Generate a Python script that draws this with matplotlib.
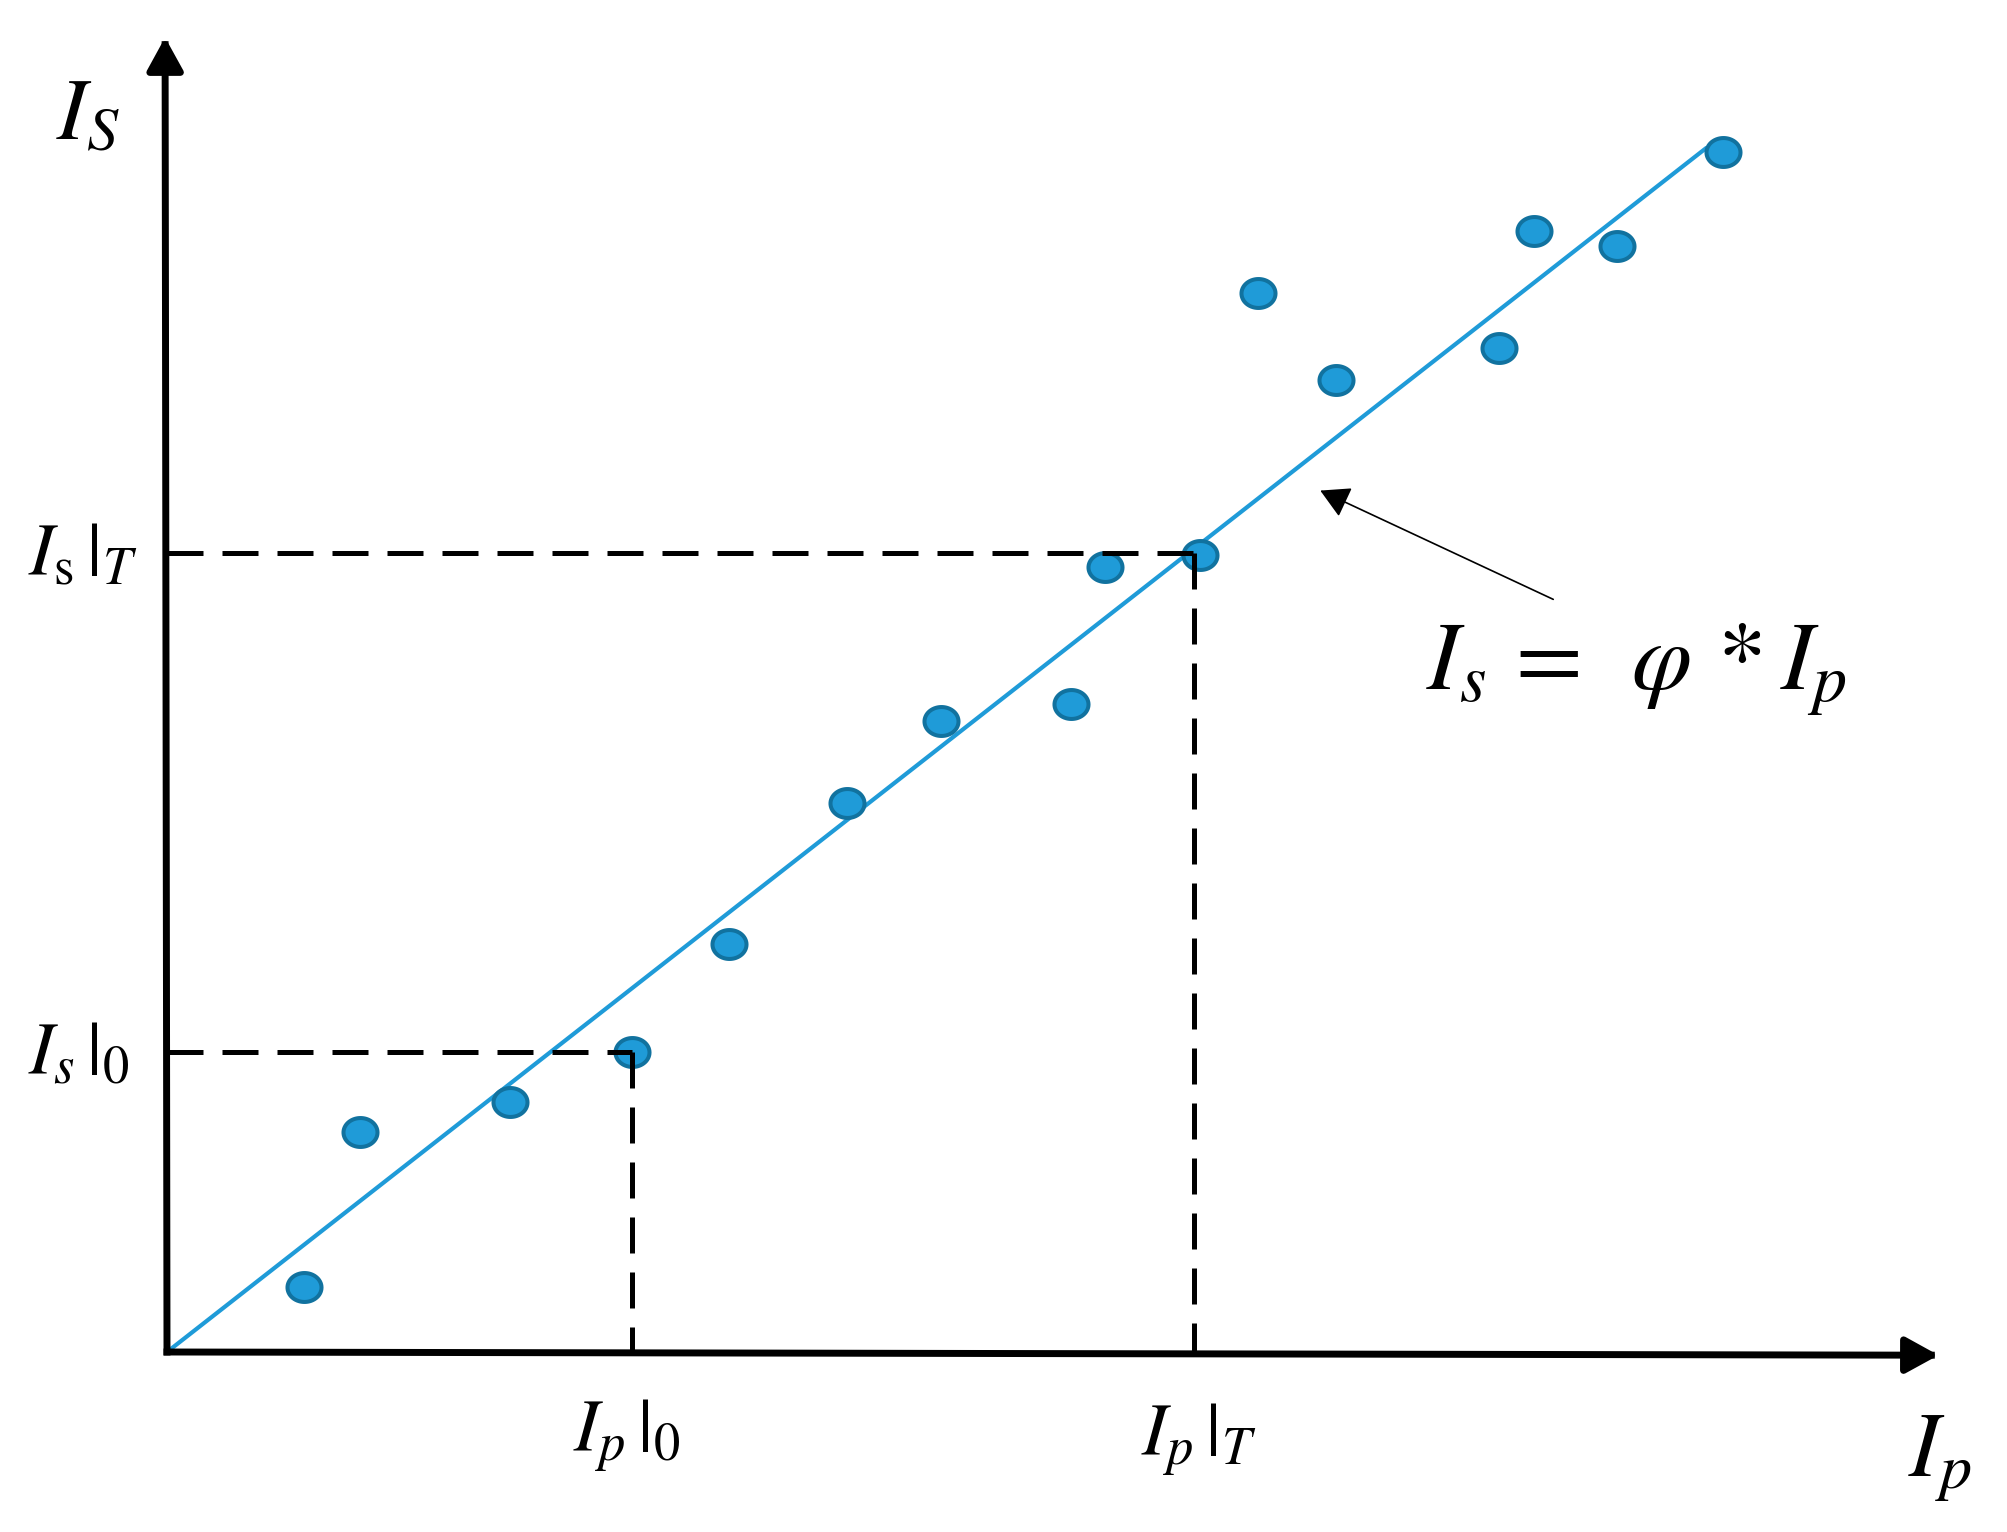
import numpy as np
import matplotlib
matplotlib.use("Agg")
import matplotlib.pyplot as plt
from matplotlib.path import Path
from matplotlib.patches import FancyArrowPatch

plt.rcParams['mathtext.fontset'] = 'stix'
plt.rcParams['font.family'] = ['STIXGeneral', 'DejaVu Serif']

# ---- data (arbitrary units, origin at axes corner) ----
pts_x = [1.07, 1.51, 2.68, 3.63, 4.39, 5.31, 6.05, 7.06, 7.33, 8.07,
         8.52, 9.13, 10.41, 10.68, 11.33, 12.16]
pts_y = [0.51, 1.72, 1.95, 2.34, 3.19, 4.29, 4.93, 5.06, 6.13, 6.23,
         8.27, 7.59, 7.84, 8.76, 8.64, 9.375]
fit_x = [0.0, 12.03]
fit_y = [0.0, 9.41]
ip0, is0 = 3.63, 2.34
ipT, isT = 8.02, 6.24
xaxis_end = (13.84, -0.025)
yaxis_end = (-0.015, 10.27)

fig = plt.figure(figsize=(20.08, 15.32), dpi=100)
ax = fig.add_axes([0, 0, 1, 1])
ax.set_xlim(-167/128, (2008-167)/128)
ax.set_ylim((1352-1532)/128, 1352/128)
ax.axis('off')

# fitted line
ax.plot(fit_x, fit_y, color='#1f9bd8', lw=3.0, solid_capstyle='butt', zorder=2)

# elliptical marker
t = np.linspace(0, 2*np.pi, 60)
ell = Path(np.column_stack([np.cos(t), 0.85*np.sin(t)]), closed=True)
ax.plot(pts_x, pts_y, linestyle='none', marker=ell, markersize=24.5,
        markerfacecolor='#1f9bd8', markeredgecolor='#11729f', markeredgewidth=2.9,
        zorder=3)

# dashed guides
dash = (0, (7.2, 3.8))
for (px, py) in [(ip0, is0), (ipT, isT)]:
    ax.plot([0, px], [py, py], color='black', lw=3.6, linestyle=dash, zorder=4)
    ax.plot([px, px], [py, 0], color='black', lw=3.6, linestyle=dash, zorder=4)

# axes arrows
for end in [xaxis_end, yaxis_end]:
    arr = FancyArrowPatch((0, 0), end, arrowstyle='-|>,head_length=1.0,head_width=0.55',
                          mutation_scale=20, lw=5, color='black',
                          shrinkA=0, shrinkB=0, zorder=5, capstyle='projecting')
    ax.add_patch(arr)

# annotation arrow
ax.annotate('', xy=(9.01, 6.73), xytext=(10.83, 5.88),
            arrowprops=dict(arrowstyle='-|>,head_length=0.9,head_width=0.5',
                            mutation_scale=20, lw=1.2, color='black',
                            shrinkA=0, shrinkB=0), zorder=5)

# labels
ax.text(-0.62, 9.64, r'$I_S$', fontsize=64, ha='center', va='center')
ax.text(-0.66, 6.20, r'$I_{\mathrm{s}}\,|_T$', fontsize=54, ha='center', va='center')
ax.text(-0.69, 2.30, r'$I_s\,|_0$', fontsize=54, ha='center', va='center')
ax.text(3.59, -0.66, r'$I_p\,|_0$', fontsize=54, ha='center', va='center')
ax.text(8.06, -0.69, r'$I_p\,|_T$', fontsize=54, ha='center', va='center')
ax.text(13.85, -0.83, r'$I_p$', fontsize=66, ha='center', va='center')
ax.text(11.48, 5.33, r'$I_s\,=\ \,\varphi\,*I_p$', fontsize=70, ha='center', va='center')

fig.savefig('out.png', dpi=100)
